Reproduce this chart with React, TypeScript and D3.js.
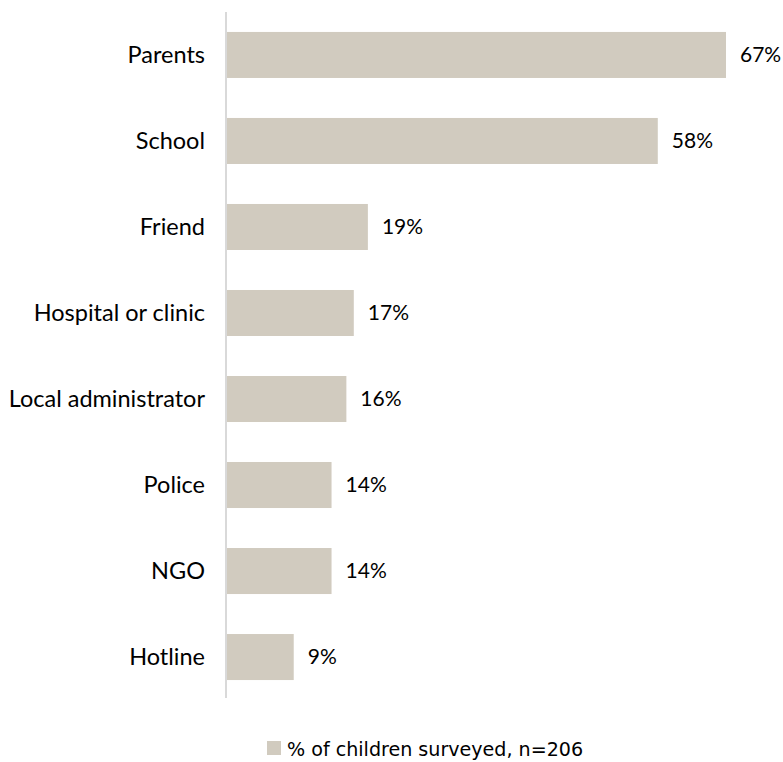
import React from "react";
import * as d3 from "d3";

const categories = ["Parents", "School", "Friend", "Hospital or clinic", "Local administrator", "Police", "NGO", "Hotline"];
const values = [67.3, 58.1, 19, 17.1, 16.1, 14.1, 14.1, 9];
const labels = ["67%", "58%", "19%", "17%", "16%", "14%", "14%", "9%"];
const seriesName = "% of children surveyed, n=206";

const W = 783;
const H = 762;
const x0 = 227;
const top = 12;
const bottom = 700;

export default function App() {
  const x = d3.scaleLinear().domain([0, 67.3]).range([x0, 726]);
  const y = d3.scaleBand().domain(categories).range([top, bottom]).paddingInner(0.465).paddingOuter(0.232);
  const font = "Lato, 'Open Sans', sans-serif";
  return (
    <svg width={W} height={H} style={{ position: "absolute", left: 0, top: 0 }}>
      {categories.map((c, i) => {
        const yy = y(c)!;
        const bw = y.bandwidth();
        return (
          <g key={c}>
            <rect x={x0} y={yy} width={x(values[i]) - x0} height={bw} fill="#D1CBBF" />
            <text x={205} y={yy + bw / 2} dy="0.35em" textAnchor="end" fontFamily={font} fontSize={23.5} fill="#000">{c}</text>
            <text x={x(values[i]) + 14} y={yy + bw / 2} dy="0.35em" textAnchor="start" fontFamily={font} fontSize={21} fill="#000">{labels[i]}</text>
          </g>
        );
      })}
      <line x1={226} x2={226} y1={top} y2={698} stroke="#D9D9D9" strokeWidth={2} />
      <rect x={267} y={741} width={14} height={14} fill="#D1CBBF" />
      <text x={287} y={749} dy="0.35em" fontFamily="'DejaVu Sans', Verdana, sans-serif" fontSize={19.1} fill="#000">{seriesName}</text>
    </svg>
  );
}
